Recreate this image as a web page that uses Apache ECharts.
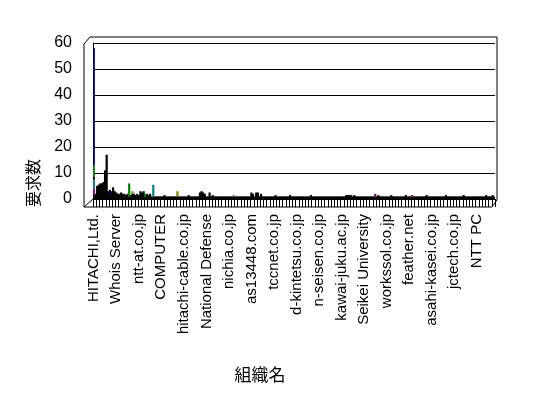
<!DOCTYPE html>
<html>
<head>
<meta charset="utf-8">
<script src="https://cdn.jsdelivr.net/npm/echarts@6/dist/echarts.min.js"></script>
<style>
  html, body { margin: 0; padding: 0; background: #fff; }
  #main { width: 548px; height: 398px; }
</style>
</head>
<body>
<div id="main"></div>
<script>
// ラベルが出ている組織名（14件おき）
var labelNames = ['HITACHI,Ltd.', 'Whois Server', 'ntt-at.co.jp', 'COMPUTER',
    'hitachi-cable.co.jp', 'National Defense', 'nichia.co.jp', 'as13448.com',
    'tccnet.co.jp', 'd-kintetsu.co.jp', 'n-seisen.co.jp', 'kawai-juku.ac.jp',
    'Seikei University', 'workssol.co.jp', 'feather.net', 'asahi-kasei.co.jp',
    'jctech.co.jp', 'NTT PC'];
var orgCount = 250;
var labelStep = 14;

// 黒く見える小さな要素をまとめた系列（組織ごと）
var baseVals = [
    1.5, 2, 5, 5.5, 6, 6, 6.5, 11, 17, 3,
    3.5, 2, 4.5, 3, 2.5, 2, 2, 2.5, 2, 2,
    1.5, 2, 1, 1.5, 2, 2, 1.5, 2, 1.5, 3,
    2.5, 3, 1, 2, 1.5, 2, 1, 1, 1, 1,
    1, 1, 1, 1, 1.5, 1, 1, 1, 1, 1,
    1, 1, 1, 1, 1, 1, 1, 1, 1, 1.5,
    1, 1, 1, 1, 1, 1, 2.5, 3, 2.5, 2,
    1, 1, 2.5, 1, 1.5, 1, 1, 1, 1, 1,
    1, 1, 1, 1, 1, 1, 1, 1, 1, 1,
    1, 1, 1, 1, 1, 1, 1, 1, 2.5, 2,
    1, 2.5, 2.5, 1, 2, 1, 1, 1, 1, 1,
    1, 1, 1, 1.5, 1, 1, 1, 1, 1, 1,
    1, 1, 1.5, 1, 1, 1, 1, 1, 1, 1,
    1, 1, 1, 1, 1, 1.5, 1, 1, 1, 1,
    1, 1, 1, 1, 1, 1, 1, 1, 1, 1,
    1, 1, 1, 1, 1, 1, 1, 1.5, 1.5, 1.5,
    1.5, 1, 1.5, 1, 1, 1, 1, 1, 1, 1,
    1, 1, 1, 1, 1, 1, 1, 1.5, 1, 1,
    1, 1, 1, 1, 1, 1.5, 1, 1, 1, 1,
    1, 1, 1, 1, 1.5, 1, 1, 1, 1, 1,
    1, 1, 1, 1, 1, 1, 1, 1.5, 1, 1,
    1, 1, 1, 1, 1, 1, 1, 1, 1, 1.5,
    1, 1, 1, 1, 1, 1, 1, 1, 1, 1,
    1.5, 1, 1, 1, 1, 1, 1, 1, 1, 1,
    1, 1, 1, 1, 1.5, 1, 1, 1, 1.5, 1
];
// 色の見える系列: [組織番号, 値]
var purpleVals = [[0, 2.5], [175, 1]];
var tealVals = [[0, 3.5], [37, 4.5]];
var blackVals2 = [[0, 1]];
var greenVals = [[0, 4.5], [22, 5], [32, 1]];
var navyVals = [[0, 45], [11, 1]];
var oliveVals = [[24, 1], [52, 2], [87, 0.5]];
var maroonVals = [[198, 0.5]];

var categories = [];
for (var i = 0; i < orgCount; i++) {
    categories.push(i % labelStep === 0 ? (labelNames[i / labelStep] || '') : '');
}

function toSeriesData(pairs) {
    var arr = [];
    for (var i = 0; i < orgCount; i++) arr.push('-');
    pairs.forEach(function (p) { arr[p[0]] = p[1]; });
    return arr;
}

function barSeries(name, data, color) {
    return {
        name: name,
        type: 'bar',
        stack: 'total',
        data: data,
        barWidth: 2.2,
        itemStyle: { color: color },
        silent: true
    };
}

var font = 'Liberation Sans, Noto Sans CJK JP, sans-serif';

var option = {
    animation: false,
    backgroundColor: '#fff',
    grid: {
        left: 93,
        right: 53,
        top: 43,
        bottom: 199,
        containLabel: false,
        outerBoundsMode: 'none'
    },
    xAxis: {
        type: 'category',
        data: categories,
        axisLine: { show: true, lineStyle: { color: '#000', width: 1 } },
        axisTick: { show: true, interval: 1, length: 8, lineStyle: { color: '#000' } },
        axisLabel: {
            interval: labelStep - 1,
            rotate: 90,
            margin: 15,
            fontSize: 15,
            color: '#000',
            fontFamily: font
        },
        splitLine: { show: false }
    },
    yAxis: {
        type: 'value',
        min: 0,
        max: 60,
        interval: 10,
        axisLine: { show: true, lineStyle: { color: '#000' } },
        axisTick: { show: false },
        axisLabel: { fontSize: 16, color: '#000', margin: 21, fontFamily: font },
        splitLine: { show: true, lineStyle: { color: '#000', width: 1 } }
    },
    graphic: [
        // 3D風の枠
        { type: 'polyline', silent: true,
          shape: { points: [[84, 207], [84, 44], [90, 37], [497, 37], [497, 200], [492, 207], [84, 207]] },
          style: { stroke: '#000', fill: null, lineWidth: 1 } },
        { type: 'line', silent: true,
          shape: { x1: 84, y1: 207, x2: 93, y2: 199 },
          style: { stroke: '#000', lineWidth: 1 } },
        { type: 'text', silent: true, x: 35, y: 183, rotation: Math.PI / 2,
          style: { text: '要求数', font: '16px ' + font, fill: '#000',
                   textAlign: 'center', textVerticalAlign: 'middle' } },
        { type: 'text', silent: true, x: 260, y: 376,
          style: { text: '組織名', font: '17px ' + font, fill: '#000',
                   textAlign: 'center', textVerticalAlign: 'middle' } }
    ],
    series: [
        barSeries('その他1', baseVals, '#000'),
        barSeries('紫', toSeriesData(purpleVals), '#800080'),
        barSeries('青緑', toSeriesData(tealVals), '#008080'),
        barSeries('その他2', toSeriesData(blackVals2), '#000'),
        barSeries('緑', toSeriesData(greenVals), '#008000'),
        barSeries('紺', toSeriesData(navyVals), '#000080'),
        barSeries('黄土', toSeriesData(oliveVals), '#808000'),
        barSeries('茶', toSeriesData(maroonVals), '#800000')
    ]
};

var myChart = echarts.init(document.getElementById('main'));
myChart.setOption(option);
</script>
</body>
</html>
